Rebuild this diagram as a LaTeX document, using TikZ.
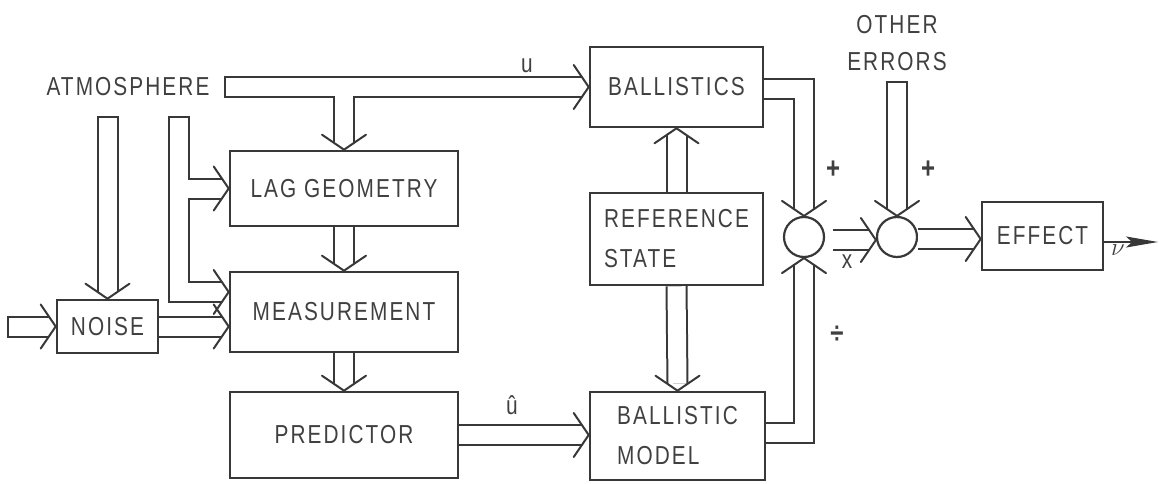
\documentclass[tikz,border=0pt]{standalone}
\usepackage{fontspec}
\setmainfont{Liberation Sans}[FakeStretch=0.8, LetterSpace=8]
\usetikzlibrary{calc,arrows.meta}
\definecolor{ink}{gray}{0.22}
\definecolor{txt}{gray}{0.25}
\tikzset{
  box/.style={draw=ink, line width=2.6pt, rectangle, inner sep=0pt, text=txt,
    font=\fontsize{26}{40}\selectfont, align=left},
  sumnode/.style={draw=ink, line width=2.2pt, circle, minimum size=40pt, inner sep=0pt},
  pipe/.style={draw=ink, line width=2pt, double=white, double distance=18pt, line join=miter},
  arm/.style={draw=ink, line width=2pt, line join=miter, line cap=round},
  endline/.style={draw=ink, line width=2pt},
  lab/.style={text=txt, font=\fontsize{26}{37}\selectfont, inner sep=0pt, align=center},
  sign/.style={text=txt, font=\fontsize{30}{30}\selectfont\bfseries, inner sep=0pt},
  chevR/.pic={\draw[arm] (-15,-22) -- (0,0) -- (-15,22);},
  chevD/.pic={\draw[arm] (-22,-15) -- (0,0) -- (22,-15);},
  chevU/.pic={\draw[arm] (-22,15) -- (0,0) -- (22,15);}
}
\begin{document}
\begin{tikzpicture}[x=1pt,y=-1pt]
\useasboundingbox (0,0) rectangle (1159,484);

% blocks
\node[box, minimum width=173, minimum height=80] (ball) at (676.5,87) {BALLISTICS};
\node[box, minimum width=228, minimum height=75] (lag) at (344,188.5) {LAG GEOMETRY};
\node[box, minimum width=228, minimum height=80] (meas) at (344,312) {MEASUREMENT};
\node[box, minimum width=101, minimum height=53] (noise) at (107.5,326.5) {NOISE};
\node[box, minimum width=228, minimum height=86] (pred) at (344,435) {PREDICTOR};
\node[box, minimum width=173, minimum height=92] (ref) at (676.5,239) {REFERENCE\\STATE};
\node[box, minimum width=175, minimum height=88] (bm) at (677.5,436) {BALLISTIC\\MODEL};
\node[box, minimum width=121, minimum height=68] (eff) at (1042.5,236) {EFFECT};
\node[sumnode] (c1) at (804,237) {};
\node[sumnode] (c2) at (897,237) {};

% text labels
\node[lab] (atm) at (128,87) {ATMOSPHERE};
\node[lab] (oe) at (897,43) {OTHER\\ERRORS};
\node[lab] (lu) at (527,66) {u};
\node[lab] (luh) at (512,405) {û};
\node[sign] (p1) at (833,170) {+};
\node[sign] (p2) at (928,170) {+};
\node[sign] (dv) at (837,335) {÷};
\node[lab] (lx) at (847,262) {x};
\node[lab, font=\fontsize{32}{32}\selectfont] (lnu) at (1118,250) {$\nu$};

% free pipe ends
\coordinate (atmL) at (225,87);
\coordinate (atmV) at (179,117);
\coordinate (atmN) at (107.5,117);
\coordinate (nin) at (8,326.5);
\coordinate (oeT) at (897,82);

% atmosphere -> ballistics
\draw[pipe] (atmL) -- ($(ball.west)+(-7,0)$);
\draw[endline] ($(atmL)+(0,-11)$) -- ($(atmL)+(0,11)$);
\pic at (ball.west) {chevR};
% branch -> lag geometry
\draw[pipe] ($(lag.north |- atmL)+(0,9)$) -- ($(lag.north)+(0,-7)$);
\pic at (lag.north) {chevD};

% atmosphere -> lag geometry / measurement
\draw[pipe] ($(atmV)+(0,-1)$) |- ($(meas.west)+(-7,-20)$);
\draw[endline] ($(atmV)+(-11,0)$) -- ($(atmV)+(11,0)$);
\draw[pipe] ($(atmV |- lag.west)+(9,0)$) -- ($(lag.west)+(-7,0)$);
\pic at (lag.west) {chevR};
\pic at ($(meas.west)+(0,-20)$) {chevR};

% atmosphere -> noise
\draw[pipe] ($(atmN)+(0,-1)$) -- ($(noise.north)+(0,-7)$);
\draw[endline] ($(atmN)+(-11,0)$) -- ($(atmN)+(11,0)$);
\pic at (noise.north) {chevD};

% input -> noise
\draw[pipe] (nin) -- ($(noise.west)+(-7,0)$);
\draw[endline] ($(nin)+(0,-11)$) -- ($(nin)+(0,11)$);
\pic at (noise.west) {chevR};

% noise -> measurement
\draw[pipe] (noise.east) -- ($(meas.west |- noise.east)+(-7,0)$);
\pic at (meas.west |- noise.east) {chevR};

% lag -> measurement -> predictor
\draw[pipe] (lag.south) -- ($(meas.north)+(0,-7)$);
\pic at (meas.north) {chevD};
\draw[pipe] (meas.south) -- ($(pred.north)+(0,-7)$);
\pic at (pred.north) {chevD};

% predictor -> ballistic model
\draw[pipe] (pred.east) -- ($(bm.west |- pred.east)+(-7,0)$);
\pic at (bm.west |- pred.east) {chevR};

% reference state -> ballistics / ballistic model
\draw[pipe] (ref.north) -- ($(ball.south)+(0,7)$);
\pic at (ball.south) {chevU};
\draw[pipe] (ref.south) -- ($(bm.north)+(0,-7)$);
\pic at (bm.north) {chevD};

% ballistics -> c1 ; ballistic model -> c1
\draw[pipe] ($(ball.east)+(0,2)$) -| ($(c1.north)+(0,-7)$);
\pic at (c1.north) {chevD};
\draw[pipe] ($(bm.east)+(0,-3)$) -| ($(c1.south)+(0,7)$);
\pic at (c1.south) {chevU};

% c1 -> c2
\draw[pipe] ($(c1.east)+(8,3)$) -- ($(c2.west)+(-7,3)$);
\pic at ($(c2.west)+(0,3)$) {chevR};

% other errors -> c2
\draw[pipe] ($(oeT)+(0,-1)$) -- ($(c2.north)+(0,-7)$);
\draw[endline] ($(oeT)+(-11,0)$) -- ($(oeT)+(11,0)$);
\pic at (c2.north) {chevD};

% c2 -> effect
\draw[pipe] ($(c2.east)+(0,2)$) -- ($(eff.west |- c2.east)+(-7,2)$);
\pic at ($(eff.west |- c2.east)+(0,2)$) {chevR};

% effect -> output
\coordinate (out) at (1158,242);
\draw[draw=ink, line width=1.6pt, -{Stealth[length=32pt,width=11pt,inset=6pt]}] ($(eff.east)+(0,6)$) -- (out);
\end{tikzpicture}
\end{document}
